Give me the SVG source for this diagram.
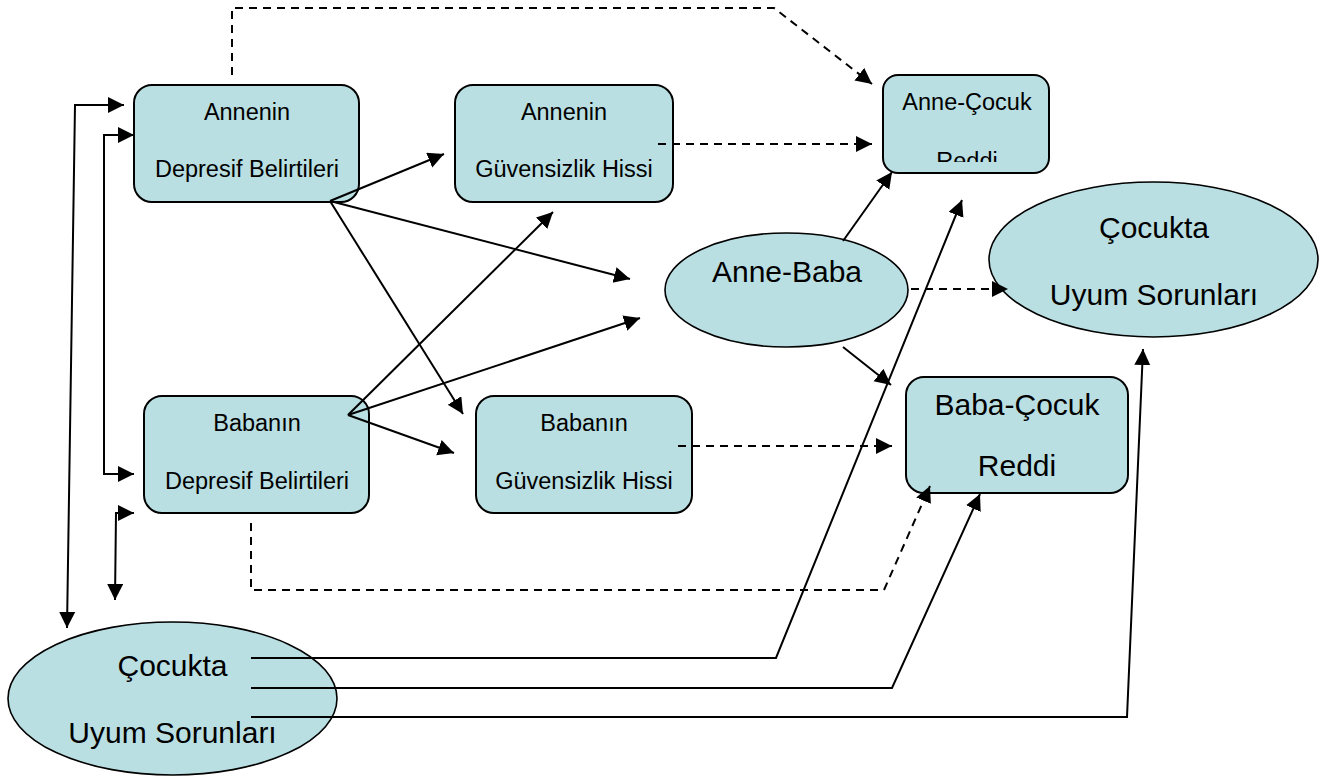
<svg xmlns="http://www.w3.org/2000/svg" width="1330" height="778" viewBox="0 0 1330 778">
<style>
.box{fill:#B9DFE2;stroke:#000;stroke-width:2}
.ell{fill:#B9DFE2;stroke:#000;stroke-width:1.6}
.t{font-family:"Liberation Sans",Arial,sans-serif;font-size:23.5px;fill:#000;text-anchor:middle}
.tl{font-family:"Liberation Sans",Arial,sans-serif;font-size:30px;fill:#000;text-anchor:middle}
.c{fill:none;stroke:#000;stroke-width:2}
.d{fill:none;stroke:#000;stroke-width:2;stroke-dasharray:8,6}
</style>
<defs>
<marker id="ah" markerUnits="userSpaceOnUse" markerWidth="18" markerHeight="18" refX="16" refY="8" orient="auto">
<path d="M0,0 L16,8 L0,16 z" fill="#000"/>
</marker>
<marker id="ahs" markerUnits="userSpaceOnUse" markerWidth="18" markerHeight="18" refX="0" refY="8" orient="auto">
<path d="M16,0 L0,8 L16,16 z" fill="#000"/>
</marker>
<clipPath id="clipAC"><rect x="883" y="75" width="166" height="87"/></clipPath>
</defs>
<rect width="1330" height="778" fill="#fff"/>

<g id="anne-dep">
<rect class="box" x="134" y="85" width="225" height="117" rx="18"/>
<text class="t" x="247" y="120">Annenin</text>
<text class="t" x="247" y="177">Depresif Belirtileri</text>
</g>
<g id="anne-guv">
<rect class="box" x="455" y="85" width="218" height="117" rx="18"/>
<text class="t" x="564" y="120">Annenin</text>
<text class="t" x="564" y="177">Güvensizlik Hissi</text>
</g>
<g id="baba-dep">
<rect class="box" x="144" y="396" width="225" height="117" rx="18"/>
<text class="t" x="257" y="431">Babanın</text>
<text class="t" x="257" y="489">Depresif Belirtileri</text>
</g>
<g id="baba-guv">
<rect class="box" x="476" y="396" width="216" height="117" rx="18"/>
<text class="t" x="584" y="431">Babanın</text>
<text class="t" x="584" y="489">Güvensizlik Hissi</text>
</g>
<g id="anne-cocuk">
<rect class="box" x="883" y="75" width="166" height="98" rx="15"/>
<text class="t" x="967" y="110">Anne-Çocuk</text>
<text class="t" x="967" y="168.5" clip-path="url(#clipAC)">Reddi</text>
</g>
<g id="anne-baba">
<ellipse class="ell" cx="786.5" cy="290" rx="121.5" ry="57"/>
<text class="tl" x="787" y="282">Anne-Baba</text>
</g>
<g id="cocuk-uyum-sag">
<ellipse class="ell" cx="1153.5" cy="259.5" rx="164.5" ry="77.5"/>
<text class="tl" x="1154" y="238">Çocukta</text>
<text class="tl" x="1154" y="305">Uyum Sorunları</text>
</g>
<g id="baba-cocuk">
<rect class="box" x="906" y="377" width="222" height="116" rx="18"/>
<text class="tl" x="1017" y="415">Baba-Çocuk</text>
<text class="tl" x="1017" y="476">Reddi</text>
</g>
<g id="cocuk-uyum-sol">
<ellipse class="ell" cx="172.5" cy="698.5" rx="164.5" ry="76.5"/>
<text class="tl" x="172.5" y="676">Çocukta</text>
<text class="tl" x="172.5" y="743">Uyum Sorunları</text>
</g>

<g id="connectors">
<polyline class="d" points="232,75 232,8 774,8 872,84" marker-end="url(#ah)"/>
<line class="d" x1="658" y1="144" x2="872" y2="144" marker-end="url(#ah)"/>
<line class="c" x1="330" y1="201" x2="444" y2="154" marker-end="url(#ah)"/>
<line class="c" x1="330" y1="201" x2="630" y2="279" marker-end="url(#ah)"/>
<line class="c" x1="330" y1="201" x2="463" y2="414" marker-end="url(#ah)"/>
<line class="c" x1="348" y1="415" x2="553" y2="212" marker-end="url(#ah)"/>
<line class="c" x1="348" y1="415" x2="640" y2="318" marker-end="url(#ah)"/>
<line class="c" x1="348" y1="415" x2="454" y2="453" marker-end="url(#ah)"/>
<line class="d" x1="678" y1="446" x2="892" y2="446" marker-end="url(#ah)"/>
<line class="c" x1="843" y1="241" x2="892" y2="172" marker-end="url(#ah)"/>
<line class="d" x1="911" y1="289" x2="1008" y2="289" marker-end="url(#ah)"/>
<line class="c" x1="843" y1="347" x2="891" y2="385" marker-end="url(#ah)"/>
<polyline class="c" points="251,658 776,658 962,200" marker-end="url(#ah)"/>
<polyline class="c" points="251,688 892,688 980,494" marker-end="url(#ah)"/>
<polyline class="c" points="251,717 1127,717 1143,349" marker-end="url(#ah)"/>
<polyline class="d" points="251,523 251,590 884,590 930,486" marker-end="url(#ah)"/>
<polyline class="c" points="67,628 75,105 124,105" marker-start="url(#ahs)" marker-end="url(#ah)"/>
<polyline class="c" points="134,135 104,135 104,474 134,474" marker-start="url(#ahs)" marker-end="url(#ah)"/>
<polyline class="c" points="134,513 116,513 115,600" marker-start="url(#ahs)" marker-end="url(#ah)"/>
</g>
</svg>
